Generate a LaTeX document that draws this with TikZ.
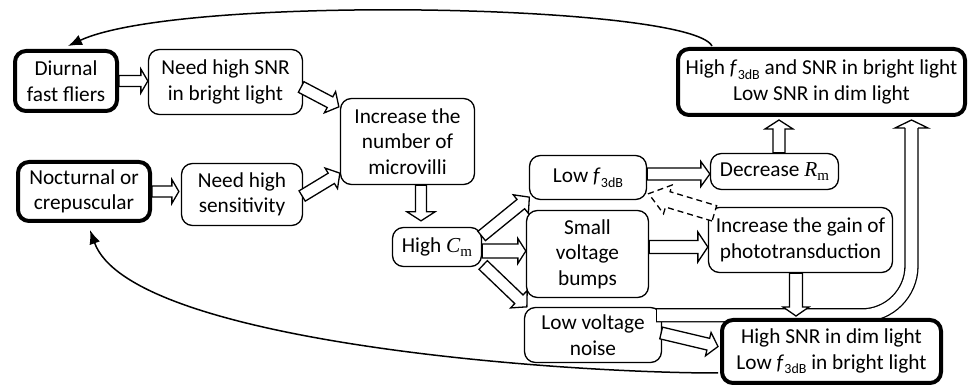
\documentclass[tikz,border=0pt]{standalone}
\usepackage{fontspec}
\setmainfont{Carlito}
\newfontfamily\tms{Liberation Serif}
\usetikzlibrary{calc,arrows.meta}
\newcommand\fdb{\textit{f}\kern0.3pt\raisebox{-4.5pt}{\fontsize{14}{14}\selectfont 3dB}}
\newcommand\tsub[2]{{\tms\itshape #1}\raisebox{-4pt}{\tms\fontsize{15}{15}\selectfont #2}}
\newcommand\blockarr[6]{%
  \coordinate (bahd) at ($(#3)!#6!(#2)$);
  \draw[#1] ($(#2)!#4!90:(#3)$) -- ($(bahd)!#4!90:(#3)$) -- ($(bahd)!#5!90:(#3)$)
    -- (#3) -- ($(bahd)!#5!-90:(#3)$) -- ($(bahd)!#4!-90:(#3)$) -- ($(#2)!#4!-90:(#3)$) -- cycle;
}
\tikzset{
  box/.style={draw, line width=1.3pt, rounded corners=11pt, fill=white, align=center,
    inner sep=0pt, font=\fontsize{21.3}{25.6}\selectfont},
  tbox/.style={box, line width=4pt},
  blk/.style={draw, line width=1.3pt, fill=white, line join=miter},
  dsh/.style={draw, line width=1.3pt, fill=white, dashed, dash pattern=on 6pt off 4pt},
  thin/.style={line width=1.5pt, -{Latex[length=14pt,width=11pt]}},
}
\begin{document}
\begin{tikzpicture}[x=1pt,y=-1pt]
\useasboundingbox (0,0) rectangle (970,387);
% nodes
\node[tbox, minimum width=102pt, minimum height=60pt] (diurnal) at (66,81) {Diurnal\\fast fliers};
\node[box, minimum width=154pt, minimum height=65pt] (snr) at (225.5,82) {Need high SNR\\in bright light};
\node[tbox, minimum width=132pt, minimum height=59pt] (noct) at (84,191.5) {Nocturnal or\\crepuscular};
\node[box, minimum width=121pt, minimum height=62pt] (sens) at (242,194.5) {Need high\\sensitivity};
\node[box, minimum width=134pt, minimum height=86pt] (micro) at (407.5,141.5) {Increase the\\number of\\microvilli};
\node[box, minimum width=89pt, minimum height=39pt] (cm) at (437,247) {High \tsub{C}{m}};
\node[box, minimum width=117pt, minimum height=44pt] (lowf) at (588,177.5) {Low \fdb};
\node[box, minimum width=122pt, minimum height=87pt] (bumps) at (587.5,254) {Small\\voltage\\bumps};
\node[box, minimum width=137pt, minimum height=55pt] (noise) at (593,335) {Low voltage\\noise};
\node[box, minimum width=128pt, minimum height=36pt] (rm) at (774.5,171.5) {Decrease \tsub{R}{m}};
\node[tbox, minimum width=287pt, minimum height=66pt] (topr) at (821.5,82) {High \fdb{} and SNR in bright light\\Low SNR in dim light};
\node[box, minimum width=184pt, minimum height=65pt] (gain) at (800.5,240) {Increase the gain of\\phototransduction};
% U-shaped block arrow from noise to top right box
\coordinate (ustart) at ($(noise.north east)+(-6,8.5)$);
\coordinate (uend) at ($(topr.south east)+(-55.5,3)$);
\coordinate (ucorner) at (ustart -| uend);
\foreach \lw/\col in {14.3pt/black, 11.7pt/white}
  \draw[line width=\lw, color=\col] (ustart) -- ($(ucorner)+(-49.5,0)$)
     .. controls ($(ucorner)+(-22.2,0)$) and ($(ucorner)+(0,-22.2)$) .. ($(ucorner)+(0,-49.5)$)
     -- ($(uend)+(0,8)$);
\draw[line width=1.3pt] ($(ustart)+(0,-7.15)$) -- ($(ustart)+(0,7.15)$);
\draw[blk] ($(uend)+(-6.5,8)$) -- ($(uend)+(-16.5,8)$) -- (uend) -- ($(uend)+(16.5,8)$) -- ($(uend)+(6.5,8)$);
\node[tbox, minimum width=219pt, minimum height=63pt] (botr) at (831.5,351.5) {High SNR in dim light\\Low \fdb{} in bright light};
% block arrows
\coordinate (a1s) at (diurnal.east);
\coordinate (a1e) at (diurnal.east -| snr.west);
\blockarr{blk}{a1s}{a1e}{5.5pt}{12pt}{7pt}
\coordinate (a2s) at (noct.east);
\coordinate (a2e) at ($(noct.east -| sens.west)+(-2,0)$);
\blockarr{blk}{a2s}{a2e}{5.5pt}{12pt}{7pt}
\coordinate (a3s) at ($(snr.east)+(-2,5)$);
\coordinate (a3e) at ($(micro.north west)+(-1,9)$);
\blockarr{blk}{a3s}{a3e}{6pt}{12pt}{10pt}
\coordinate (a4s) at ($(sens.east)+(-1,1.5)$);
\coordinate (a4e) at ($(micro.south west)+(0,-12)$);
\blockarr{blk}{a4s}{a4e}{6pt}{12pt}{10pt}
\coordinate (a5s) at ($(micro.south)+(13.5,0)$);
\coordinate (a5e) at ($(cm.north)+(-16,-6)$);
\blockarr{blk}{a5s}{a5e}{5.5pt}{14pt}{9pt}
\coordinate (a6s) at ($(cm.east)+(-0.5,-11)$);
\coordinate (a6e) at ($(lowf.south west)+(0.5,-3)$);
\blockarr{blk}{a6s}{a6e}{6pt}{12pt}{11pt}
\coordinate (a7s) at ($(cm.east)+(0,4)$);
\coordinate (a7e) at (a7s -| bumps.west);
\blockarr{blk}{a7s}{a7e}{7pt}{12.5pt}{8pt}
\coordinate (a8s) at ($(cm.east)+(1,18)$);
\coordinate (a8e) at ($(noise.north west)+(3,0)$);
\blockarr{blk}{a8s}{a8e}{6pt}{12pt}{11pt}
\coordinate (a9s) at ($(lowf.east)+(0,-3.5)$);
\coordinate (a9e) at (a9s -| rm.west);
\blockarr{blk}{a9s}{a9e}{6pt}{12.5pt}{9pt}
\coordinate (a10s) at ($(bumps.east)+(0,-7)$);
\coordinate (a10e) at (a10s -| gain.west);
\blockarr{blk}{a10s}{a10e}{6.5pt}{15pt}{10pt}
\coordinate (a11s) at ($(rm.north)+(4.5,0)$);
\coordinate (a11e) at ($(topr.south)+(-42.5,3)$);
\blockarr{blk}{a11s}{a11e}{6pt}{14pt}{9pt}
\coordinate (a12s) at ($(gain.south)+(-4.5,0)$);
\coordinate (a12e) at ($(botr.north)+(-35.5,-2)$);
\blockarr{blk}{a12s}{a12e}{6.5pt}{13pt}{9pt}
\coordinate (a13s) at ($(noise.east)+(-1,-2)$);
\coordinate (a13e) at ($(botr.west)+(-2,-5)$);
\blockarr{blk}{a13s}{a13e}{6pt}{12pt}{10pt}
% dashed hollow arrow
\coordinate (dshs) at ($(gain.north west)+(6.5,6.5)$);
\coordinate (dshe) at ($(lowf.south east)+(1.5,-6.5)$);
\blockarr{dsh}{dshs}{dshe}{8pt}{15pt}{20pt}
% thin curved arrows
\coordinate (c1s) at ($(topr.north west)+(36,-1)$);
\coordinate (c1e) at ($(diurnal.north)+(2,-3)$);
\draw[thin] (c1s) .. controls +(-22,-42) and +(112,-52) .. (c1e);
\coordinate (c2s) at ($(botr.west)+(-2,21.5)$);
\coordinate (c2e) at ($(noct.south)+(6,7)$);
\draw[thin] (c2s) .. controls +(-160,0) and +(40,112) .. (c2e);
\end{tikzpicture}
\end{document}
